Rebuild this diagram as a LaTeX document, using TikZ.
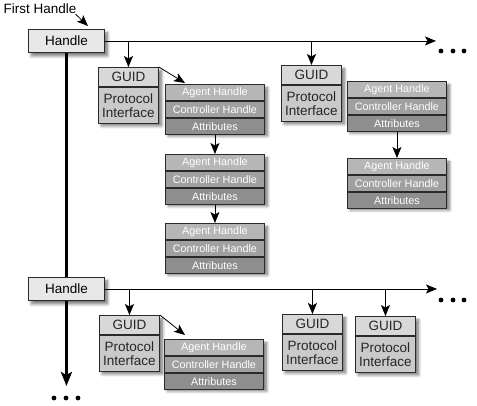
\documentclass[tikz,border=0pt]{standalone}
\usepackage{fontspec}
\setmainfont{Liberation Sans}
\usetikzlibrary{arrows.meta,shadows,shadows.blur,calc}
\definecolor{agA}{HTML}{B6B6B6}
\definecolor{agC}{HTML}{A0A0A0}
\definecolor{agT}{HTML}{8E8E8E}
\definecolor{gfill}{HTML}{D8D8D8}
\definecolor{pfill}{HTML}{CACACA}
\definecolor{hfill}{HTML}{E8E8E8}
\definecolor{edge}{HTML}{2A2A2A}
\tikzset{
  shad/.style={blur shadow={shadow xshift=3pt, shadow yshift=-3.5pt, shadow blur steps=8, shadow blur radius=3pt, shadow opacity=55}},
  box/.style={draw=edge, line width=0.9pt, inner sep=0pt, anchor=north west},
  handlebox/.style={box, fill=hfill, minimum width=76pt, minimum height=23pt, font=\fontsize{13.5}{15}\selectfont, shad},
  guidframe/.style={box, fill=white, minimum width=60pt, minimum height=55pt, shad},
  guidrow/.style={box, fill=gfill, minimum width=60pt, minimum height=19pt, font=\fontsize{13.5}{15}\selectfont, text=black!85},
  protorow/.style={box, fill=pfill, minimum width=60pt, minimum height=36pt, align=center, font=\fontsize{13.5}{15}\selectfont, text=black!85},
  agentframe/.style={box, fill=white, minimum width=99pt, minimum height=48pt, shad},
  agentrow/.style={box, minimum width=99pt, minimum height=16pt, font=\fontsize{10.8}{12}\selectfont, text=white},
  arr/.style={-{Stealth[length=11pt,width=9pt,inset=2.5pt]}, line width=0.8pt, draw=black},
  thickline/.style={line width=3pt, draw=black},
  label/.style={inner sep=0pt, font=\fontsize{13.5}{15}\selectfont}
}
\newcommand\agentblk[3]{%
  \node[agentframe] (#1) at (#2,#3) {};
  \node[agentrow, fill=agA] (#1a) at (#1.north west) {Agent Handle};
  \node[agentrow, fill=agC] (#1c) at (#1a.south west) {Controller Handle};
  \node[agentrow, fill=agT] (#1t) at (#1c.south west) {Attributes};
}
\newcommand\guidblk[3]{%
  \node[guidframe] (#1) at (#2,#3) {};
  \node[guidrow] (#1g) at (#1.north west) {GUID};
  \node[protorow] (#1p) at (#1g.south west) {Protocol\\[-1pt]Interface};
}
\begin{document}
\begin{tikzpicture}[x=1pt,y=-1pt]
\useasboundingbox (0,0) rectangle (477,406);
% handles
\node[label] (fh) at (40,9) {First Handle};
\node[handlebox] (h1) at (28,29) {Handle};
\node[handlebox] (h2) at (28,277) {Handle};
% guid blocks
\guidblk{g1}{98}{67}
\guidblk{g2}{281}{65}
\guidblk{g3}{99}{315}
\guidblk{g4}{282}{314}
\guidblk{g5}{355}{316}
% agent blocks
\agentblk{a1}{165}{84}
\agentblk{a2}{165}{154}
\agentblk{a3}{165}{223}
\agentblk{a4}{347}{81}
\agentblk{a5}{347}{158}
\agentblk{a6}{164}{339}
% connectors
\draw[arr] ($(fh.south east)+(-1,0)$) -- ($(h1.north west)+(60,-3)$);
\draw[thickline] (h1.south) -- (h2.north);
\draw[thickline, -{Stealth[length=14pt,width=11pt,inset=3pt]}] (h2.south) -- (h2.south |- 0,386);
\draw[arr] (h1.east) -- (h1.east -| 436,0);
\draw[arr] (h2.east) -- (h2.east -| 437,0);
\draw[arr] (g1.north |- h1.east) -- (g1.north);
\draw[arr] (g2.north |- h1.east) -- (g2.north);
\draw[arr] (g3.north |- h2.east) -- (g3.north);
\draw[arr] (g4.north |- h2.east) -- (g4.north);
\draw[arr] (g5.north |- h2.east) -- (g5.north);
\draw[arr] (g1.north east) -- ($(a1.north west)+(20,-1)$);
\draw[arr] (g3.north east) -- ($(a6.north west)+(21,-4)$);
\draw[arr] (a1t.south) -- (a2.north);
\draw[arr] (a2t.south) -- (a3.north);
\draw[arr] (a4t.south) -- (a5.north);
% ellipses
\foreach \x in {441,453,464} \fill (\x,51) circle (2.4);
\foreach \x in {441,453,464} \fill (\x,300) circle (2.4);
\foreach \x in {54,66,78} \fill (\x,398) circle (2.4);
\end{tikzpicture}
\end{document}
